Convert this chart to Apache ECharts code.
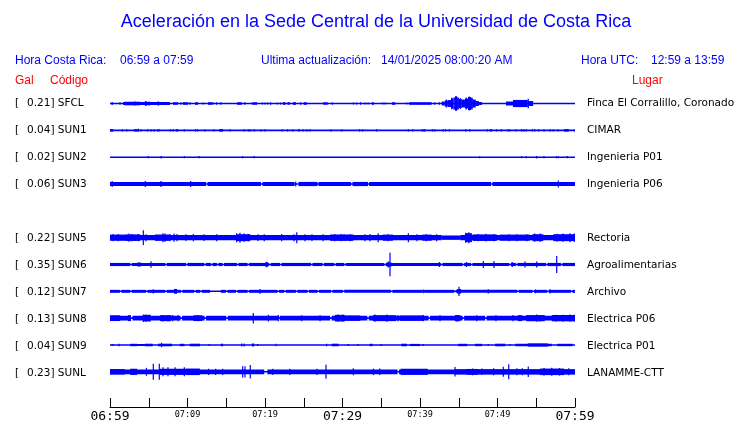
<!DOCTYPE html>
<html><head><meta charset="utf-8">
<script src="https://cdn.jsdelivr.net/npm/echarts@6/dist/echarts.min.js"></script>
<style>html,body{margin:0;padding:0;background:#fff}#c{width:740px;height:423px}</style>
</head><body><div id="c"></div><script>
// ---- data (time in minutes after 06:59, amplitudes in display units) ----
const stations = ['SFCL','SUN1','SUN2','SUN3','SUN5','SUN6','SUN7','SUN8','SUN9','SUNL'];
const peakGal  = [0.21,0.04,0.02,0.06,0.22,0.35,0.12,0.13,0.04,0.23];
const places   = ['Finca El Corralillo, Coronado','CIMAR','Ingenieria P01','Ingenieria P06','Rectoria',
                  'Agroalimentarias','Archivo','Electrica P06','Electrica P01','LANAMME-CTT'];
const tickMinutes = [0,10,20,30,40,50,60];
const tickLabels  = ['06:59','07:09','07:19','07:29','07:39','07:49','07:59'];
const bigTicks    = [0,30,60];
// steady background band half-amplitude per station
const bandAmp = [0,0,0,2.1,2.7,1.6,1.5,2.4,0,2.4];
// interruptions of the background band [t0,t1]
const gapsSFCL = [], gapsSUN1 = [], gapsSUN2 = [], gapsSUN9 = [];
const gapsSUN3 = [[12.39,12.58],[19.48,19.68],[23.81,24.32],[26.77,26.9],[31.1,31.29],[33.29,33.42],[49.16,49.35]];
const gapsSUN5 = [[42.8,45.2]];
const gapsSUN6 = [[2.61,2.81],[7.13,7.33],[9.8,10.0],[12.16,12.36],[13.02,13.22],[13.8,14.0],[14.52,14.72],[16.38,16.58],
                  [17.75,17.95],[20.55,20.75],[21.93,22.13],[25.93,26.13],[27.42,27.62],[28.93,29.13],[30.22,30.42],
                  [35.38,35.58],[42.7,42.9],[45.49,45.69],[46.57,46.77],[51.51,51.71],[52.38,52.58],[56.25,56.45],[58.18,58.38]];
const gapsSUN7 = [[1.28,1.48],[2.61,2.81],[4.64,4.84],[7.13,7.33],[9.15,9.35],[10.87,11.07],[11.64,11.84],[12.9,14.3],
                  [14.96,15.16],[16.25,16.45],[17.75,17.95],[21.62,21.82],[22.48,22.68],[23.99,24.19],[25.49,25.69],
                  [26.78,26.98],[28.5,28.7],[30.03,30.23],[36.25,36.45],[40.33,40.53],[44.42,44.62],[52.55,52.75],
                  [54.52,54.72],[56.42,56.62],[59.47,59.67]];
const gapsSUN8 = [[2.7,2.9],[9.1,9.3],[12.2,12.4],[15.0,15.2],[21.7,21.9],[28.4,28.6],[33.2,33.4],[41.1,41.3],[45.5,45.7],[48.4,48.6]];
const gapsSUNL = [[19.9,20.3],[37.1,37.3]];
// bursts [t0,t1,halfAmp]
const segsSFCL = [[0.19,0.39,1.3],[1.68,7.74,1.5],[1.9,3.9,1.8],[4.5,5.2,1.8],[8.13,8.77,1.3],[9.42,10.06,1.3],
  [10.97,11.35,1.3],[12.65,13.16,1.3],[16.4,17.0,1.3],[18.3,19.0,1.2],[22.3,22.65,1.3],[22.9,23.2,1.3],[23.6,24.0,1.3],
  [25.0,25.4,1.3],[27.5,28.1,1.2],[33.8,34.05,1.3],[36.4,36.8,1.3],[38.6,41.5,1.3],
  [42.8,43.2,2],[43.2,43.6,3],[43.6,44.0,3.5],[44.0,44.3,5],[44.3,44.5,6],[44.5,44.8,7],[44.8,45.0,5.5],[45.0,45.4,4.5],
  [45.4,45.8,4],[45.8,46.2,5],[46.2,46.6,6.5],[46.6,46.8,5],[46.8,47.2,4],[47.2,47.6,2.5],[47.6,48.0,1.5],
  [51.1,52.0,2],[52.0,53.9,3.6],[53.9,54.6,2.5]];
const segsSUN1 = [[0,0.4,1.3],[3.1,3.6,1.2],[8.5,8.8,1.2],[14.1,14.6,1.3],[24.25,24.5,1.1],[49.0,49.3,1.2],[58.6,59.2,1.3]];
const segsSUN2 = [];
const segsSUN3 = [];
const segsSUN5 = [[42.8,45.2,2.2],[0,1.9,3.1],[1.9,3.9,3.3],[5.8,7.7,3.2],[16.3,18.1,3.5],[28.4,30.3,3.2],[30.1,31.4,3.2],
  [35.2,36.5,3.1],[40.3,41.5,3.1],[45.8,46.7,4.5],[46.8,49.9,3.3],[50.3,54.2,3.1],[54.5,55.9,3.5],[57.2,60,3.5]];
const segsSUN6 = [[3.5,4.0,2.0],[20.0,20.4,2.1],[35.7,36.3,2.1]];
const segsSUN7 = [[8.26,8.65,2.4],[44.8,45.3,2.3]];
const segsSUN8 = [[0,1.3,2.9],[2.3,2.7,3.0],[4.3,5.2,3.3],[6.45,7.9,3.0],[10.75,11.9,2.9],[29.0,30.3,3.3],[30.3,32.3,2.7],
  [33.9,36.9,3.0],[37.4,40.4,2.7],[44.5,45.2,3.1],[52.6,53.2,3.0],[53.7,56.1,3.1],[57.0,60,3.2]];
const segsSUN9 = [[0.2,0.45,0.9],[2.6,3.5,1.2],[3.5,4.5,1.0],[4.5,5.5,1.3],[6.2,8.0,1.3],[9.0,9.6,1.2],[10.3,11.6,1.3],
  [14.3,14.6,1.3],[18.3,18.6,1.5],[28.6,29.5,1.3],[33.5,33.9,1.2],[37.6,38.3,1.3],[38.7,40.0,1.1],[44.9,46.1,1.2],
  [47.1,48.0,1.2],[49.7,51.0,1.3],[52.3,57.0,1.3],[53.9,56.5,1.6],[57.7,59.7,1.2]];
const segsSUNL = [[0,1.9,2.8],[2.6,3.5,3.1],[6.45,9.8,3.1],[9.8,11.6,3.3],[37.5,41.0,3.1],[44.5,60,2.7],[46,47.5,2.9],[55.5,58.6,3.3]];
// narrow spikes [t,halfAmp]
const spikesSFCL = [[1.29,1.3],[3.23,2],[4.6,2.5],[6.23,2.3],[9.16,1.3],[10.32,1.2],[12.04,1],[13.3,1.2],[13.76,1.2],[14.3,1.2],
  [17.4,1.2],[19.66,1],[20.0,1],[20.35,1],[20.73,1.2],[21.6,1],[22.0,1],[24.6,1.2],[28.7,1.2],[31.4,0.9],[31.8,1],[32.35,1.3],
  [32.9,1],[33.3,1],[35.2,1],[35.5,1],[38.3,1],[41.9,1.2],[42.5,1.2],[43.4,4],[44.1,5.8],[44.65,7.5],[44.9,6.2],[45.2,5.5],
  [45.95,6],[46.35,7],[46.7,6],[53.97,4.7]];
const spikesSUN1 = [[1.6,1.1],[2.15,1.1],[3.65,1.5],[4.0,1.1],[4.85,1.2],[5.3,1.1],[5.7,1.1],[6.15,1.1],[6.35,1.1],[7.8,1.1],
  [8.15,1.1],[9.6,1.1],[11.05,1.1],[11.3,1.1],[12.25,1.1],[13.4,1.2],[15.5,1.1],[17.3,1.1],[17.85,1.1],[18.1,1.1],[18.6,1.1],
  [19.5,1.1],[20.0,1.1],[22.2,1.1],[22.9,1.1],[23.6,1.2],[24.9,1.1],[25.4,1.1],[25.8,1.1],[28.5,1.1],[29.9,1.1],[32.2,1.2],
  [32.6,1.1],[34.4,1.1],[38.5,1.1],[39.05,1.1],[40.3,1.1],[40.5,1.1],[40.6,1.1],[41.6,1.2],[41.9,1.1],[43.0,1.1],[43.3,1.1],
  [43.8,1.1],[45.9,1.1],[46.4,1.2],[48.7,1.1],[49.9,1.1],[50.5,1.1],[51.35,1.1],[51.6,1.2],[52.4,1.1],[53.1,1.2],[53.4,1.1],
  [53.7,1.1],[54.5,1.1],[54.8,1.2],[55.3,1.1],[56.0,1.1],[56.8,1.1],[57.2,1.1],[57.8,1.1],[59.9,1.1]];
const spikesSUN2 = [[4.95,1.1],[6.6,1.3],[9.6,1.1],[11.5,1.1],[17.1,1.1],[18.6,1.1],[47.7,1],[53.1,1],[53.7,1],[55.05,1.3],
  [56.0,1.1],[57.6,1],[57.85,1],[59.0,1.1]];
const spikesSUN3 = [[0.28,3],[4.55,3],[6.58,3],[10.4,3],[23.96,2.5],[57.85,3.5]];
const spikesSUN5 = [[0.39,3.7],[1.07,3.7],[2.45,4.2],[2.84,3.7],[3.65,3.7],[4.3,7.5],[4.65,3.5],[6.84,4.5],[7.1,4.2],[7.74,3.7],
  [8.26,4.2],[8.65,3.7],[9.8,3.4],[10.75,3.7],[12.13,3.4],[13.77,3.5],[16.35,4.5],[16.77,5],[17.3,4.2],[17.85,3.7],[19.1,3.4],[19.9,3.5],
  [22.15,3.7],[23.74,3.5],[24.1,5.5],[25.16,3.5],[26.06,3.4],[27.5,3.5],[29.0,3.7],[29.8,3.7],[31.0,3.5],[32.9,3.5],[33.55,3.7],
  [34.6,4.5],[35.9,3.5],[38.5,4.5],[39.6,3.5],[40.8,3.5],[42.15,3.5],[45.9,5],[46.3,5.5],[47.5,3.7],[48.5,3.9],[49.55,3.5],
  [51.5,3.5],[52.5,3.5],[53.8,3.5],[54.8,4.1],[55.5,4.1],[57.7,3.9],[58.45,4.1],[59.35,4.5],[59.9,4.1]];
const spikesSUN6 = [[5.29,3.3],[20.22,2.8],[35.9,3],[36.13,11.7],[42.5,2.5],[46.0,2.5],[48.17,3.5],[49.55,3.5],[51.9,2.5],
  [53.55,3],[55.06,3],[57.64,8.5]];
const spikesSUN7 = [[5.59,2.1],[19.35,2.4],[40.43,1.9],[45.03,4.7],[48.81,2.1],[54.9,1.9],[56.77,2.1]];
const spikesSUN8 = [[4.3,3.8],[4.65,3.6],[5.16,3.4],[6.84,3.3],[7.5,3.3],[8.1,3.1],[8.77,3.1],[11.35,3.1],[18.49,5.3],[20.43,3.4],
  [21.72,3.1],[24.74,3.0],[27.1,3.0],[29.42,3.6],[30.06,3.6],[34.19,3.6],[35.74,3.6],[37.16,3.1],[40.43,3.1],[42.58,3.0],[44.77,3.3],
  [47.32,3.0],[49.8,3.0],[52.0,3.1],[55.06,3.7],[55.48,3.3],[57.55,3.4],[58.45,3.5],[59.35,3.7],[59.87,3.4]];
const spikesSUN9 = [[1.16,1.3],[6.65,2.2],[12.8,1],[17.0,1.5],[17.3,1.5],[19.05,1.1],[21.4,1.2],[27.95,1.3],[30.75,1.1],
  [32.0,1.1],[35.0,1],[40.4,1.1],[48.8,1.1],[51.6,1.1]];
const spikesSUNL = [[4.7,4],[5.59,8],[6.36,8],[6.84,4.5],[7.48,4.5],[8.39,4.5],[9.59,4.5],[12.73,3.2],[13.63,3.2],[14.54,3.2],
  [17.12,5.7],[17.42,5.7],[18.1,6.8],[21.0,3.2],[23.2,3.2],[26.7,3.2],[27.87,7],[31.4,3.5],[34.0,3.2],[34.8,3.3],[44.52,4.8],
  [46.8,3.4],[48.0,3.3],[49.5,3.5],[50.75,5],[51.45,7.5],[52.5,3.5],[53.2,3.5],[53.97,5.3],[56.0,3.8],[57.0,4],[58.0,3.8],[59.2,3.5]];

const gaps   = [gapsSFCL,gapsSUN1,gapsSUN2,gapsSUN3,gapsSUN5,gapsSUN6,gapsSUN7,gapsSUN8,gapsSUN9,gapsSUNL];
const segs   = [segsSFCL,segsSUN1,segsSUN2,segsSUN3,segsSUN5,segsSUN6,segsSUN7,segsSUN8,segsSUN9,segsSUNL];
const spikes = [spikesSFCL,spikesSUN1,spikesSUN2,spikesSUN3,spikesSUN5,spikesSUN6,spikesSUN7,spikesSUN8,spikesSUN9,spikesSUNL];

// ---- layout ----
const slots = [0,1,2,3,5,6,7,8,9,10];   // row slot (empty slot 4)
const GRID_TOP = 90, ROW0 = 13.6, ROW_H = 27, PLOT_H = 319;
const BLUE = '#0000ff', RED = '#ff0000';

const items = [];
stations.forEach((s, i) => {
  const slot = slots[i];
  items.push([0, 60, slot, 0.8]);
  if (bandAmp[i] > 0) {
    let start = 0;
    gaps[i].forEach(g => { if (g[0] > start) items.push([start, g[0], slot, bandAmp[i]]); start = g[1]; });
    if (start < 60) items.push([start, 60, slot, bandAmp[i]]);
  }
  segs[i].forEach(d => items.push([d[0], d[1], slot, d[2]]));
  spikes[i].forEach(d => items.push([d[0], d[0], slot, d[1]]));
});

function renderItem(params, api) {
  const base = ROW0 + ROW_H * api.value(2), a = api.value(3);
  const p0 = api.coord([api.value(0), base - a]);
  const p1 = api.coord([api.value(1), base + a]);
  let x0 = p0[0], x1 = p1[0];
  if (x1 - x0 < 1.2) { const c = (x0 + x1) / 2; x0 = c - 0.6; x1 = c + 0.6; }
  return { type: 'rect', shape: { x: x0, y: Math.min(p0[1], p1[1]), width: x1 - x0, height: Math.abs(p1[1] - p0[1]) },
           style: { fill: BLUE } };
}

const graphics = [];
const txt = (x, y, text, opt) => graphics.push(Object.assign({ type: 'text', x, y,
  style: Object.assign({ text, fill: '#000', font: '10.5px "DejaVu Sans"', textVerticalAlign: 'middle' }, opt || {}) }));
txt(376, 22.5, 'Aceleración en la Sede Central de la Universidad de Costa Rica', { fill: BLUE, font: '18px "Liberation Sans"', textAlign: 'center' });
const hf = '12px "Liberation Sans"';
txt(15, 61, 'Hora Costa Rica:', { fill: BLUE, font: hf });
txt(120, 61, '06:59 a 07:59', { fill: BLUE, font: hf });
txt(261, 61, 'Ultima actualización:', { fill: BLUE, font: hf });
txt(381, 61, '14/01/2025 08:00:20 AM', { fill: BLUE, font: hf });
txt(581, 61, 'Hora UTC:', { fill: BLUE, font: hf });
txt(651, 61, '12:59 a 13:59', { fill: BLUE, font: hf });
txt(15, 81, 'Gal', { fill: RED, font: hf });
txt(50, 81, 'Código', { fill: RED, font: hf });
txt(632, 81, 'Lugar', { fill: RED, font: hf });
stations.forEach((s, i) => {
  const y = GRID_TOP + ROW0 + ROW_H * slots[i];
  txt(15, y, '[');
  txt(27, y, peakGal[i].toFixed(2) + '] ' + s);
  txt(587, y, places[i]);
});

const chart = echarts.init(document.getElementById('c'));
chart.setOption({
  animation: false,
  backgroundColor: '#fff',
  grid: { left: 110, right: 165, top: GRID_TOP, height: PLOT_H },
  xAxis: {
    type: 'value', min: 0, max: 60, interval: 5, position: 'bottom',
    axisLine: { show: true, onZero: false, lineStyle: { color: '#000', width: 1 } },
    axisTick: { show: true, inside: true, length: 9, lineStyle: { color: '#000', width: 1 } },
    splitLine: { show: false },
    axisLabel: {
      margin: 3, showMinLabel: true, showMaxLabel: true,
      formatter: v => {
        const k = tickMinutes.indexOf(v);
        if (k < 0) return '';
        return (bigTicks.indexOf(v) >= 0 ? '{b|' : '{s|') + tickLabels[k] + '}';
      },
      rich: {
        b: { fontSize: 13, fontFamily: 'DejaVu Sans Mono', color: '#000' },
        s: { fontSize: 8.5, fontFamily: 'DejaVu Sans Mono', color: '#000' }
      }
    }
  },
  yAxis: { type: 'value', min: 0, max: PLOT_H, inverse: true, show: false },
  series: [{ type: 'custom', renderItem, data: items, encode: { x: [0, 1], y: 2 }, clip: false, silent: true }],
  graphic: graphics
});
</script></body></html>
